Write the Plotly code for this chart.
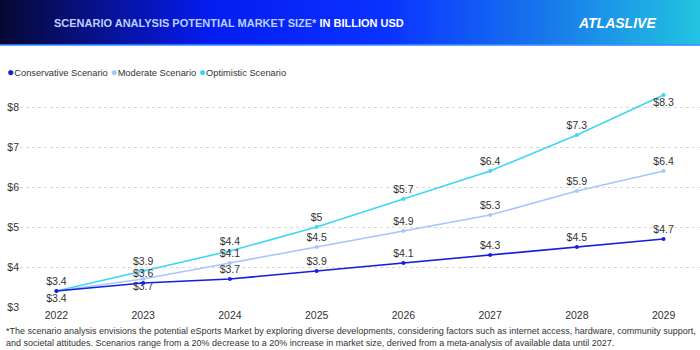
import plotly.graph_objects as go

years = ["2022", "2023", "2024", "2025", "2026", "2027", "2028", "2029"]
conservative = [3.4, 3.6, 3.7, 3.9, 4.1, 4.3, 4.5, 4.7]
moderate = [3.4, 3.7, 4.1, 4.5, 4.9, 5.3, 5.9, 6.4]
optimistic = [3.4, 3.9, 4.4, 5.0, 5.7, 6.4, 7.3, 8.3]
series_names = ["Conservative Scenario", "Moderate Scenario", "Optimistic Scenario"]
colors = ["#1420dc", "#a6c6ff", "#3fd6f2"]
y_ticks = [3, 4, 5, 6, 7, 8]

FONT = "Liberation Sans, Arial"

def fmt(v):
    return "$" + ("%g" % v)

cons_pos = ["top center"] * 8
mod_pos = ["bottom center", "bottom center"] + ["top center"] * 6
opt_pos = ["top center"] * 7 + ["bottom center"]

cons_text = [fmt(v) for v in conservative]
mod_text = [fmt(v) for v in moderate]
opt_text = [""] + [fmt(v) for v in optimistic[1:]]

fig = go.Figure()
for vals, txt, pos, col, name in [
    (optimistic, opt_text, opt_pos, colors[2], series_names[2]),
    (moderate, mod_text, mod_pos, colors[1], series_names[1]),
    (conservative, cons_text, cons_pos, colors[0], series_names[0]),
]:
    fig.add_trace(go.Scatter(
        x=years, y=vals, mode="lines+markers+text", name=name,
        text=txt, textposition=pos,
        textfont=dict(family=FONT, size=10.5, color="#333333"),
        line=dict(color=col, width=1.6), marker=dict(color=col, size=4),
        showlegend=False, cliponaxis=False,
    ))

# header gradient strips
def lerp(c1, c2, t):
    return tuple(int(round(a + (b - a) * t)) for a, b in zip(c1, c2))

stops = [(0.0, (6, 8, 50)), (0.12, (8, 16, 130)), (0.3, (4, 28, 240)),
         (0.55, (10, 50, 255)), (0.78, (24, 120, 235)), (1.0, (34, 196, 224))]
shapes = []
n = 140
for i in range(n):
    t = (i + 0.5) / n
    for j in range(len(stops) - 1):
        if stops[j][0] <= t <= stops[j + 1][0]:
            tt = (t - stops[j][0]) / (stops[j + 1][0] - stops[j][0])
            c = lerp(stops[j][1], stops[j + 1][1], tt)
            break
    shapes.append(dict(type="rect", xref="paper", yref="paper",
                       x0=-20 / 680 + i * (700 / 680) / n, x1=-20 / 680 + (i + 1.05) * (700 / 680) / n,
                       y0=1 + (83 - 45) / 224, y1=1 + 83 / 224,
                       fillcolor="rgb(%d,%d,%d)" % c, line=dict(width=0), layer="below"))
shapes.append(dict(type="rect", xref="paper", yref="paper",
                   x0=-20 / 680, x1=1, y0=1 + (83 - 46) / 224, y1=1 + (83 - 44) / 224,
                   fillcolor="rgba(60,140,255,0.8)", line=dict(width=0)))

annotations = [
    dict(xref="paper", yref="paper", x=(52 - 20) / 680, y=1 + (83 - 22.5) / 224,
         xanchor="left", yanchor="middle", showarrow=False,
         text="<b><span style='color:#bcd0ff'>SCENARIO ANALYSIS POTENTIAL MARKET SIZE*</span> "
              "<span style='color:#ffffff'>IN BILLION USD</span></b>",
         font=dict(family=FONT, size=11)),
    dict(xref="paper", yref="paper", x=(658 - 20) / 680, y=1 + (83 - 23) / 224,
         xanchor="right", yanchor="middle", showarrow=False,
         text="<b><i>ATLASLIVE</i></b>",
         font=dict(family=FONT, size=14, color="#ffffff")),
    dict(xref="paper", yref="paper", x=(5 - 20) / 680, y=1 + (83 - 72) / 224,
         xanchor="left", yanchor="middle", showarrow=False,
         text=" ".join("<span style='color:%s;font-size:12px'>●</span>%s" % (c, n_) for c, n_ in zip(colors, series_names)),
         font=dict(family=FONT, size=9.3, color="#333333")),
    dict(xref="paper", yref="paper", x=(4 - 20) / 680, y=-(337 - 306.7) / 224,
         xanchor="left", yanchor="middle", showarrow=False, align="left",
         text="*The scenario analysis envisions the potential eSports Market by exploring diverse developments, considering factors such as internet access, hardware, community support,"
              "<br>and societal attitudes. Scenarios range from a 20% decrease to a 20% increase in market size, derived from a meta-analysis of available data until 2027.",
         font=dict(family=FONT, size=9, color="#333333")),
]

fig.update_layout(
    width=700, height=350,
    margin=dict(l=20, r=0, t=83, b=43.3),
    paper_bgcolor="white", plot_bgcolor="white",
    shapes=shapes, annotations=annotations, showlegend=False,
    xaxis=dict(type="category", range=[-0.42, 7.42], showgrid=False, zeroline=False,
               showline=False, ticks="", tickfont=dict(family=FONT, size=10.5, color="#333333")),
    yaxis=dict(range=[3, 8.6], tickvals=y_ticks, ticktext=["$%d" % v for v in y_ticks],
               showgrid=True, gridcolor="#d8d8d8", griddash="dot", gridwidth=1,
               zeroline=False, showline=False, ticks="",
               tickfont=dict(family=FONT, size=10.5, color="#333333")),
)

fig.write_html("out.html")
